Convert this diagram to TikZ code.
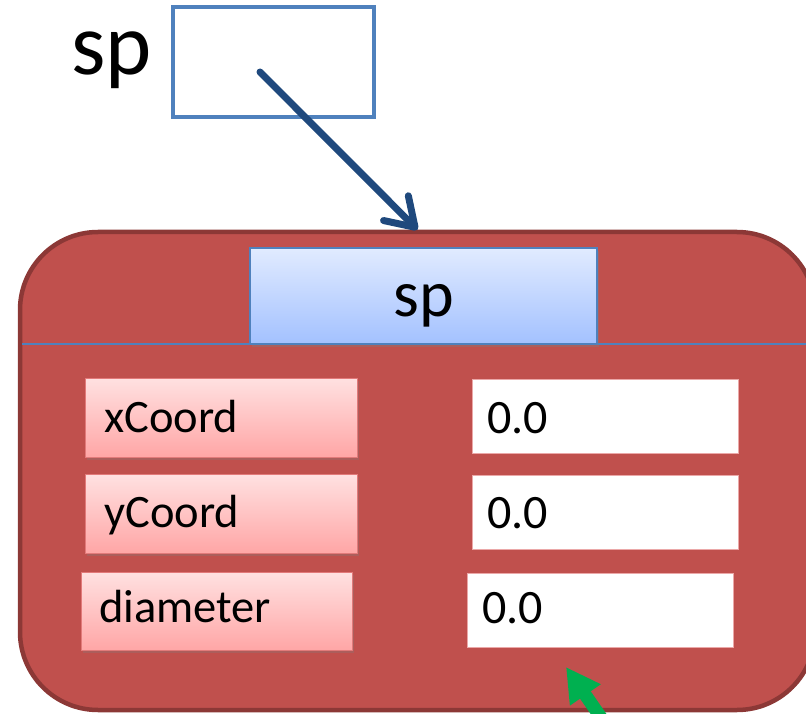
\documentclass[tikz,border=0pt]{standalone}
\usepackage{fontspec}
\setmainfont{Carlito}
\usetikzlibrary{arrows.meta,shadows}
\definecolor{objred}{HTML}{C0504D}
\definecolor{objedge}{HTML}{8C3836}
\definecolor{refblue}{HTML}{4F81BD}
\definecolor{arrowblue}{HTML}{1F497D}
\definecolor{headtop}{HTML}{E1EBFF}
\definecolor{headbot}{HTML}{A3C1FF}
\definecolor{fieldtop}{HTML}{FFE1E1}
\definecolor{fieldbot}{HTML}{FFA6A6}
\definecolor{fieldedge}{HTML}{E27A7A}
\definecolor{valueedge}{HTML}{EBA8A8}
\definecolor{pointgreen}{HTML}{00B050}
\tikzset{
  refbox/.style={draw=refblue, line width=4pt, fill=white, inner sep=0pt},
  objbox/.style={draw=objedge, fill=objred, line width=4.5pt, rounded corners=78pt, inner sep=0pt},
  headbox/.style={draw=refblue, line width=2.2pt, top color=headtop, bottom color=headbot,
    inner sep=0pt, drop shadow={shadow xshift=2pt, shadow yshift=-3pt, opacity=0.35}},
  fieldbox/.style={draw=fieldedge, line width=1pt, top color=fieldtop, bottom color=fieldbot,
    inner sep=0pt, drop shadow={shadow xshift=2pt, shadow yshift=-3pt, opacity=0.3}},
  valuebox/.style={draw=valueedge, line width=1pt, fill=white, inner sep=0pt},
  bigtext/.style={font=\fontsize{88}{92}\selectfont, inner sep=0pt, anchor=base west},
  headtext/.style={font=\fontsize{66}{70}\selectfont, inner sep=0pt, anchor=base},
  fieldtext/.style={font=\fontsize{46.5}{51}\selectfont, inner sep=0pt, anchor=base west},
  valuetext/.style={font=\fontsize{48}{53}\selectfont, inner sep=0pt, anchor=base west},
  refarrow/.style={draw=arrowblue, line width=7pt, line cap=round,
    -{Straight Barb[length=27pt, width=35pt, line cap=round, line join=round]}},
  pointer/.style={draw=pointgreen, line width=13pt,
    -{Triangle[length=34pt, width=35pt]}, fill=pointgreen}
}
\begin{document}
\begin{tikzpicture}[x=1pt, y=-1pt]
\useasboundingbox (0,0) rectangle (806,714);
\clip (0,0) rectangle (806,714);

% reference variable
\node[bigtext] (reflabel) at (71,75) {sp};
\node[refbox, minimum width=201pt, minimum height=110pt] (ref) at (273,62) {};
\coordinate (refdot) at (260,72);

% object on the heap
\node[objbox, minimum width=795pt, minimum height=478pt] (obj) at (417.5,471) {};
\draw[refblue, line width=2.2pt] (22,344) -- (obj.east |- 0,344);

\node[headbox, minimum width=347pt, minimum height=96pt] (head) at (423.5,296) {};
\node[headtext] (headlabel) at (424,316) {sp};

% fields
\node[fieldbox, minimum width=272pt, minimum height=79pt] (fx) at (221,417.5) {};
\node[fieldbox, minimum width=272pt, minimum height=79pt] (fy) at (221,513.5) {};
\node[fieldbox, minimum width=271pt, minimum height=78pt] (fd) at (216.5,611) {};
\node[fieldtext] (fxlabel) at (104,432) {xCoord};
\node[fieldtext] (fylabel) at (104,527) {yCoord};
\node[fieldtext] (fdlabel) at (99,622) {diameter};

% values
\node[valuebox, minimum width=266pt, minimum height=74pt] (vx) at (605,416) {};
\node[valuebox, minimum width=266pt, minimum height=74pt] (vy) at (605,512) {};
\node[valuebox, minimum width=266pt, minimum height=74pt] (vd) at (600,610) {};
\node[valuetext] (vxlabel) at (487,433) {0.0};
\node[valuetext] (vylabel) at (487,528) {0.0};
\node[valuetext] (vdlabel) at (482,623) {0.0};

% connectors
\draw[refarrow] (refdot) -- (obj.north);
\coordinate (greentail) at (620,745);
\coordinate (greentip) at (566,667);
\draw[pointer] (greentail) -- (greentip);
\end{tikzpicture}
\end{document}
